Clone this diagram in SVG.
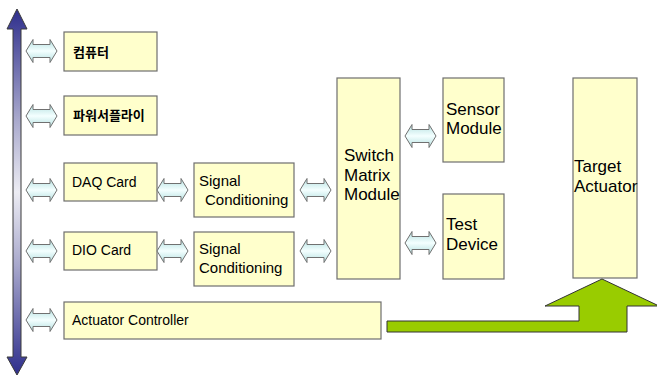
<svg xmlns="http://www.w3.org/2000/svg" width="657" height="376" viewBox="0 0 657 376">
  <defs>
    <linearGradient id="busGrad" x1="0" y1="0" x2="0" y2="1">
      <stop offset="0" stop-color="#2e2e8c"/>
      <stop offset="0.3" stop-color="#a8a8cc"/>
      <stop offset="0.5" stop-color="#ececf3"/>
      <stop offset="0.7" stop-color="#a8a8cc"/>
      <stop offset="1" stop-color="#2e2e8c"/>
    </linearGradient>
    <linearGradient id="linkGrad" x1="0" y1="0" x2="0" y2="1">
      <stop offset="0" stop-color="#b4e0e0"/>
      <stop offset="0.5" stop-color="#f4ffff"/>
      <stop offset="1" stop-color="#b4e0e0"/>
    </linearGradient>
    <!-- two-headed block arrow, origin at left tip -->
    <path id="dbl" d="M0,0 L7,-11.5 L7,-6.5 L24,-6.5 L24,-11.5 L31,0 L24,11.5 L24,6.5 L7,6.5 L7,11.5 Z"/>
  </defs>
  <style>
    .box { fill: #ffffcc; stroke: #6e6e6e; stroke-width: 1.2; }
    .t { font-family: "Liberation Sans", Arial, sans-serif; fill: #000; }
    .s14 { font-size: 14px; }
    .s15 { font-size: 15px; }
    .s17 { font-size: 17px; }
    .kr { font-family: "Noto Sans CJK KR", "Liberation Sans", sans-serif; font-size: 13px; font-weight: bold; }
    .link { fill: url(#linkGrad); stroke: #707070; stroke-width: 1; }
  </style>
  <rect width="657" height="376" fill="#ffffff"/>

  <!-- system bus -->
  <g id="bus">
    <path d="M17,9 L27,29 L21,29 L21,357 L27,357 L17,375 L7,357 L13,357 L13,29 L7,29 Z" fill="url(#busGrad)" stroke="#3a3a3a" stroke-width="1"/>
  </g>

  <g id="computer">
    <rect class="box" x="64" y="32" width="93" height="39"/>
    <text class="kr" x="73" y="57">컴퓨터</text>
  </g>
  <g id="power-supply">
    <rect class="box" x="64" y="96" width="93" height="39"/>
    <text class="kr" x="73" y="120">파워서플라이</text>
  </g>
  <g id="daq-card">
    <rect class="box" x="64" y="163" width="93" height="38"/>
    <text class="t s14" x="72" y="187">DAQ Card</text>
  </g>
  <g id="dio-card">
    <rect class="box" x="64" y="232" width="93" height="38"/>
    <text class="t s14" x="72" y="255">DIO Card</text>
  </g>
  <g id="signal-conditioning-1">
    <rect class="box" x="194" y="163" width="100" height="54"/>
    <text class="t s15" x="199" y="186">Signal</text>
    <text class="t s15" x="205" y="205">Conditioning</text>
  </g>
  <g id="signal-conditioning-2">
    <rect class="box" x="194" y="232" width="100" height="54"/>
    <text class="t s15" x="199" y="254">Signal</text>
    <text class="t s15" x="199" y="273">Conditioning</text>
  </g>
  <g id="actuator-controller">
    <rect class="box" x="64" y="302" width="317" height="37"/>
    <text class="t s14" x="72" y="325">Actuator Controller</text>
  </g>
  <g id="switch-matrix">
    <rect class="box" x="337" y="78" width="63" height="201"/>
    <text class="t s17" x="344" y="161">Switch</text>
    <text class="t s17" x="344" y="181">Matrix</text>
    <text class="t s17" x="344" y="200">Module</text>
  </g>
  <g id="sensor-module">
    <rect class="box" x="443" y="78" width="61" height="84"/>
    <text class="t s17" x="446" y="115">Sensor</text>
    <text class="t s17" x="446" y="134">Module</text>
  </g>
  <g id="test-device">
    <rect class="box" x="443" y="194" width="61" height="85"/>
    <text class="t s17" x="446" y="230">Test</text>
    <text class="t s17" x="446" y="250">Device</text>
  </g>
  <g id="target-actuator">
    <rect class="box" x="573" y="78" width="64" height="200"/>
    <text class="t s17" x="574" y="172">Target</text>
    <text class="t s17" x="574" y="192">Actuator</text>
  </g>

  <g id="connectors">
    <!-- bus links -->
    <use href="#dbl" class="link" x="26" y="51"/>
    <use href="#dbl" class="link" x="26" y="116"/>
    <use href="#dbl" class="link" x="26" y="190"/>
    <use href="#dbl" class="link" x="26" y="251"/>
    <use href="#dbl" class="link" x="26" y="320"/>
    <!-- card to conditioning -->
    <use href="#dbl" class="link" x="157" y="190"/>
    <use href="#dbl" class="link" x="157" y="251"/>
    <!-- conditioning to switch matrix -->
    <use href="#dbl" class="link" x="300" y="190"/>
    <use href="#dbl" class="link" x="300" y="251"/>
    <!-- switch matrix to sensor / test device -->
    <use href="#dbl" class="link" x="405" y="136"/>
    <use href="#dbl" class="link" x="405" y="243"/>
    <!-- controller drive to target actuator -->
    <path d="M387,321 L579,321 L579,306 L545,306 L602,279 L659,306 L627,306 L627,332 L387,332 Z" fill="#99cc00" stroke="#333333" stroke-width="1"/>
  </g>
</svg>
